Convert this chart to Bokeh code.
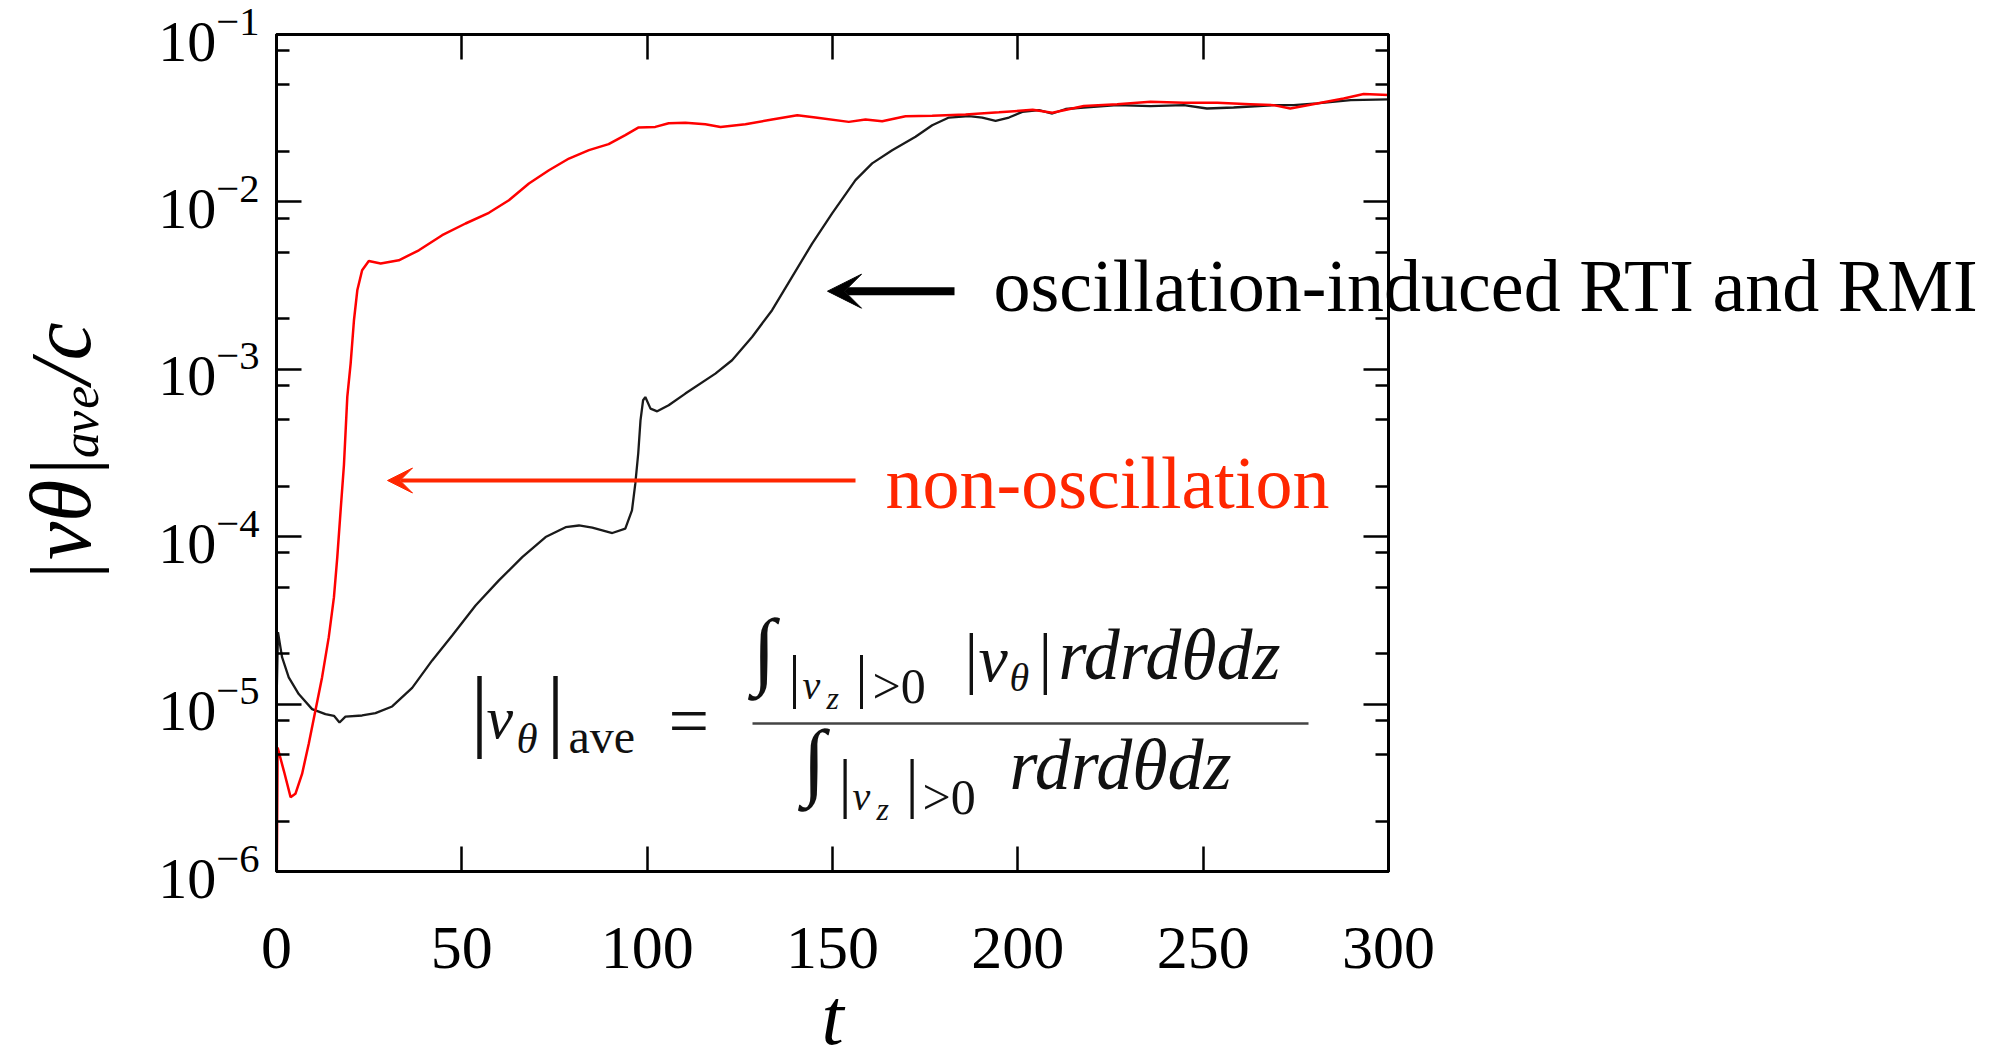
from bokeh.plotting import figure
from bokeh.models import (FixedTicker, LinearAxis, LogAxis, Label, Arrow, VeeHead,
                          Range1d, CustomJSTickFormatter)
from bokeh.embed import file_html
from bokeh.resources import INLINE

# ---------------- data ----------------
t_osc = [0.0, 0.4, 1.5, 3.3, 6.0, 9.6, 13.2, 15.5, 17.0, 18.6, 23.1, 26.7, 31.2, 36.6,
         42.0, 47.4, 53.7, 60.0, 66.3, 72.6, 78.0, 81.6, 85.2, 90.6, 94.1, 95.9, 96.8,
         97.6, 98.2, 98.9, 99.5, 100.9, 102.7, 105.8, 110.3, 118.4, 122.9, 128.3, 133.7,
         139.1, 144.5, 149.9, 156.2, 160.7, 166.1, 172.4, 176.9, 181.4, 186.8, 190.4,
         194.0, 197.6, 201.2, 205.7, 209.3, 212.9, 217.8, 226.8, 235.8, 244.8, 251.0,
         258.2, 269.0, 274.4, 280.7, 289.8, 300.0]
log_osc = [-5.00, -4.57, -4.72, -4.84, -4.94, -5.03, -5.06, -5.07, -5.11, -5.075, -5.068,
           -5.054, -5.014, -4.903, -4.739, -4.590, -4.411, -4.261, -4.122, -4.002, -3.943,
           -3.933, -3.946, -3.978, -3.952, -3.843, -3.683, -3.50, -3.305, -3.185, -3.166,
           -3.235, -3.251, -3.215, -3.145, -3.026, -2.946, -2.807, -2.647, -2.448, -2.249,
           -2.069, -1.870, -1.770, -1.691, -1.611, -1.542, -1.496, -1.488, -1.496, -1.516,
           -1.496, -1.462, -1.452, -1.472, -1.445, -1.436, -1.422, -1.428, -1.422, -1.442,
           -1.436, -1.422, -1.422, -1.412, -1.392, -1.388]

t_non = [0.0, 0.3, 2.0, 3.8, 5.1, 6.9, 8.7, 10.5, 12.3, 14.1, 15.5, 16.4, 17.3, 18.2,
         19.1, 20.0, 20.9, 21.8, 23.1, 24.9, 28.1, 33.0, 38.4, 44.7, 51.0, 57.3, 62.7,
         68.1, 73.5, 78.9, 84.3, 89.6, 94.1, 97.7, 102.2, 105.8, 110.3, 115.7, 119.8,
         126.5, 133.7, 140.5, 145.4, 154.4, 158.9, 163.4, 169.7, 176.9, 185.9, 194.9,
         204.0, 209.3, 217.8, 226.8, 235.8, 244.8, 253.8, 262.7, 269.0, 273.5, 280.7,
         287.9, 293.3, 300.0]
log_non = [-6.30, -5.26, -5.40, -5.556, -5.536, -5.417, -5.237, -5.038, -4.839, -4.600,
           -4.361, -4.122, -3.843, -3.57, -3.165, -2.966, -2.707, -2.528, -2.408, -2.353,
           -2.368, -2.349, -2.289, -2.199, -2.129, -2.065, -1.990, -1.890, -1.811, -1.741,
           -1.691, -1.655, -1.601, -1.555, -1.552, -1.530, -1.527, -1.536, -1.552, -1.536,
           -1.508, -1.482, -1.496, -1.522, -1.508, -1.518, -1.488, -1.486, -1.478, -1.465,
           -1.450, -1.467, -1.427, -1.416, -1.402, -1.408, -1.408, -1.416, -1.422, -1.442,
           -1.412, -1.382, -1.356, -1.362]

v_osc = [10.0 ** g for g in log_osc]
v_non = [10.0 ** g for g in log_non]

x_ticks = [0, 50, 100, 150, 200, 250, 300]
y_ticks = [1e-6, 1e-5, 1e-4, 1e-3, 1e-2, 1e-1]
y_minor = [m * 10.0 ** e for e in range(-6, -1) for m in (2, 5, 8)]

SERIF = "Liberation Serif"
RED_TXT = "#ff2600"

# ---------------- figure ----------------
p = figure(frame_width=1112, frame_height=837,
           x_range=Range1d(0, 300), y_range=Range1d(1e-6, 1e-1), y_axis_type="log",
           output_backend="svg", toolbar_location=None,
           min_border_left=276, min_border_right=627, min_border_top=34, min_border_bottom=187)
p.grid.visible = False
p.outline_line_color = "black"
p.outline_line_width = 3
p.background_fill_color = "white"
p.border_fill_color = "white"


def style_axis(ax, show_labels=True):
    ax.axis_line_width = 3
    ax.axis_line_color = "black"
    ax.major_tick_in = 25
    ax.major_tick_out = 0
    ax.minor_tick_in = 13
    ax.minor_tick_out = 0
    ax.major_tick_line_width = 2.5
    ax.minor_tick_line_width = 2.5
    ax.major_tick_line_color = "black"
    ax.minor_tick_line_color = "black"
    ax.major_label_text_font = SERIF
    ax.major_label_text_color = "black"
    if not show_labels:
        ax.formatter = CustomJSTickFormatter(code="return ''")
        ax.major_label_text_font_size = "10px"
        ax.major_label_standoff = 0


xax = p.xaxis[0]
xax.ticker = FixedTicker(ticks=x_ticks)
style_axis(xax)
xax.major_label_text_font_size = "62px"
xax.major_label_standoff = 56
xax.axis_label = "t"
xax.axis_label_text_font = SERIF
xax.axis_label_text_font_style = "italic"
xax.axis_label_text_font_size = "80px"
xax.axis_label_text_color = "black"
xax.axis_label_standoff = 2

yax = p.yaxis[0]
yax.ticker = FixedTicker(ticks=y_ticks, minor_ticks=y_minor)
style_axis(yax)
yax.major_label_text_font_size = "58px"
yax.major_label_standoff = 17
yax.axis_label = "|vθ|ₐᵥₑ/c"
yax.axis_label_text_font = SERIF
yax.axis_label_text_font_style = "italic"
yax.axis_label_text_font_size = "86px"
yax.axis_label_text_color = "black"
yax.axis_label_standoff = 46

top = LinearAxis(ticker=FixedTicker(ticks=x_ticks))
style_axis(top, show_labels=False)
p.add_layout(top, "above")

right = LogAxis(ticker=FixedTicker(ticks=y_ticks, minor_ticks=y_minor))
style_axis(right, show_labels=False)
p.add_layout(right, "right")

# ---------------- curves ----------------
p.line(t_osc, v_osc, line_color="#1a1a1a", line_width=2.3)
p.line(t_non, v_non, line_color="#ff0000", line_width=2.5)

# ---------------- annotations ----------------
FX0, FY0, FW, FH = 276.0, 34.0, 1112.0, 837.0
BASE_FIX = 0.33   # bokeh puts an "alphabetic" label this many em lower than the baseline


def at(X, Y):
    """pixel position in the reference picture -> data coordinates (annotation placement)"""
    return (X - FX0) / FW * 300.0, 10 ** (-1 - (Y - FY0) / FH * 5.0)


def text_at(X, Ybase, size):
    return at(X, Ybase - BASE_FIX * size)


# black arrow + text (the text runs past the frame: put it in the right side panel,
# where annotations are not clipped to the frame)
xs, ys = at(954, 290.7)
xe, _ = at(827, 290.7)
p.add_layout(Arrow(end=VeeHead(size=34, fill_color="black", line_color="black", line_width=1),
                   x_start=xs, y_start=ys, x_end=xe, y_end=ys,
                   line_color="black", line_width=8))
lx, ly = text_at(993, 310, 74)
p.add_layout(Label(x=lx, y=ly, text="oscillation-induced RTI and RMI", text_font=SERIF,
                   text_font_size="74px", text_color="black", text_baseline="alphabetic",
                   text_align="left"), "right")

# red arrow + text
xs, ys = at(855, 480)
xe, _ = at(387, 480)
p.add_layout(Arrow(end=VeeHead(size=25, fill_color=RED_TXT, line_color=RED_TXT, line_width=1),
                   x_start=xs, y_start=ys, x_end=xe, y_end=ys,
                   line_color=RED_TXT, line_width=4))
lx, ly = text_at(885, 507, 74)
p.add_layout(Label(x=lx, y=ly, text="non-oscillation", text_font=SERIF,
                   text_font_size="74px", text_color=RED_TXT, text_baseline="alphabetic",
                   text_align="left"))

# formula  |v_θ|_ave = ∫ |v_θ| r dr dθ dz / ∫ r dr dθ dz
formula_parts = [
    ("|", 470, 739, 90, "normal"),
    ("v", 486, 737, 60, "italic"),
    ("θ", 516, 752, 43, "italic"),
    ("|", 546, 739, 90, "normal"),
    ("ave", 568, 752, 48, "normal"),
    ("=", 668, 744, 72, "normal"),
    # numerator
    ("∫", 752, 677, 85, "normal"),
    ("|", 788, 695, 60, "normal"),
    ("v", 802, 698, 40, "italic"),
    ("z", 826, 708, 32, "italic"),
    ("|", 855, 695, 60, "normal"),
    (">0", 872, 702, 50, "normal"),
    ("|", 964, 680, 68, "normal"),
    ("v", 978, 680, 66, "italic"),
    ("θ", 1009, 690, 40, "italic"),
    ("|", 1038, 680, 68, "normal"),
    ("rdrdθdz", 1058, 678, 72, "italic"),
    # denominator
    ("∫", 802, 788, 85, "normal"),
    ("|", 838, 804, 66, "normal"),
    ("v", 852, 809, 40, "italic"),
    ("z", 876, 819, 32, "italic"),
    ("|", 905, 804, 66, "normal"),
    (">0", 922, 813, 50, "normal"),
    ("rdrdθdz", 1009, 788, 72, "italic"),
]
for txt, X, Y, size, style in formula_parts:
    fx, fy = text_at(X, Y, size)
    p.add_layout(Label(x=fx, y=fy, text=txt, text_font=SERIF, text_font_size=f"{size}px",
                       text_font_style=style, text_color="#111111",
                       text_baseline="alphabetic", text_align="left"))

bx0, by = at(752, 723)
bx1, _ = at(1308, 723)
p.add_layout(Arrow(end=None, x_start=bx0, y_start=by, x_end=bx1, y_end=by,
                   line_color="#444444", line_width=2.5))

open("out.html", "w").write(file_html(p, INLINE))
